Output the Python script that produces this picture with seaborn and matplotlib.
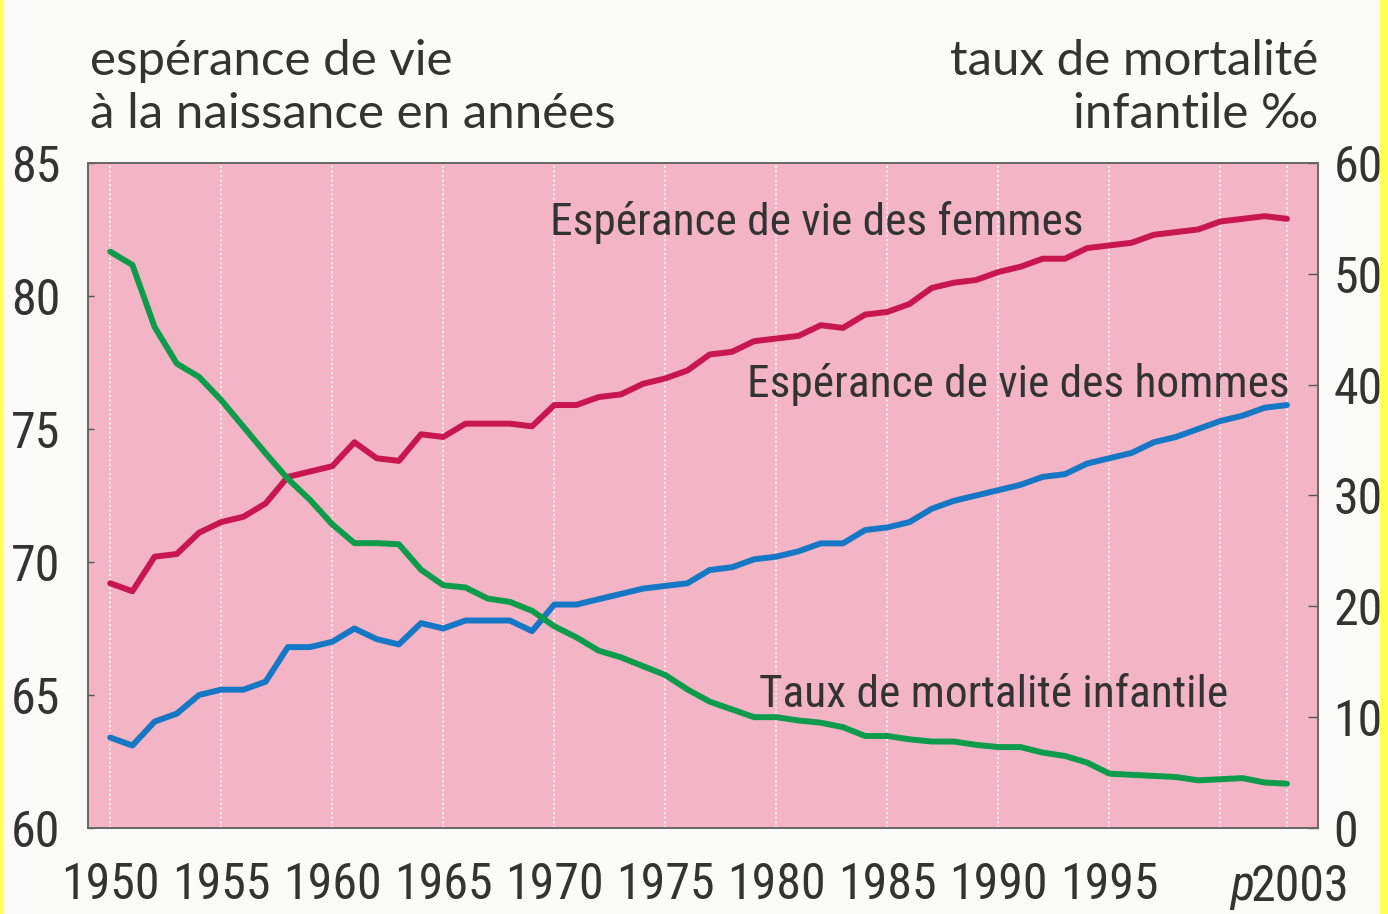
import numpy as np
import pandas as pd
import matplotlib
matplotlib.use("Agg")
import matplotlib.pyplot as plt
from matplotlib import font_manager as fm
import seaborn as sns

# annees 1950 -> 2003 (2003 provisoire)
annees = list(range(1950, 2004))

esperance_femmes = [69.2, 68.9, 70.2, 70.3, 71.1, 71.5, 71.7, 72.2, 73.2, 73.4,
                    73.6, 74.5, 73.9, 73.8, 74.8, 74.7, 75.2, 75.2, 75.2, 75.1,
                    75.9, 75.9, 76.2, 76.3, 76.7, 76.9, 77.2, 77.8, 77.9, 78.3,
                    78.4, 78.5, 78.9, 78.8, 79.3, 79.4, 79.7, 80.3, 80.5, 80.6,
                    80.9, 81.1, 81.4, 81.4, 81.8, 81.9, 82.0, 82.3, 82.4, 82.5,
                    82.8, 82.9, 83.0, 82.9]

esperance_hommes = [63.4, 63.1, 64.0, 64.3, 65.0, 65.2, 65.2, 65.5, 66.8, 66.8,
                    67.0, 67.5, 67.1, 66.9, 67.7, 67.5, 67.8, 67.8, 67.8, 67.4,
                    68.4, 68.4, 68.6, 68.8, 69.0, 69.1, 69.2, 69.7, 69.8, 70.1,
                    70.2, 70.4, 70.7, 70.7, 71.2, 71.3, 71.5, 72.0, 72.3, 72.5,
                    72.7, 72.9, 73.2, 73.3, 73.7, 73.9, 74.1, 74.5, 74.7, 75.0,
                    75.3, 75.5, 75.8, 75.9]

mortalite_infantile = [52.0, 50.8, 45.2, 41.9, 40.7, 38.6, 36.2, 33.8, 31.5, 29.6,
                       27.4, 25.7, 25.7, 25.6, 23.3, 21.9, 21.7, 20.7, 20.4, 19.6,
                       18.2, 17.2, 16.0, 15.4, 14.6, 13.8, 12.5, 11.4, 10.7, 10.0,
                       10.0, 9.7, 9.5, 9.1, 8.3, 8.3, 8.0, 7.8, 7.8, 7.5,
                       7.3, 7.3, 6.8, 6.5, 5.9, 4.9, 4.8, 4.7, 4.6, 4.3,
                       4.4, 4.5, 4.1, 4.0]

x_ticks = [1950, 1955, 1960, 1965, 1970, 1975, 1980, 1985, 1990, 1995, 2000, 2003]
x_labels = ["1950", "1955", "1960", "1965", "1970", "1975", "1980", "1985",
            "1990", "1995", "", ""]
y_left_ticks = [60, 65, 70, 75, 80, 85]
y_right_ticks = [0, 10, 20, 30, 40, 50, 60]

df = pd.DataFrame({"annee": annees, "femmes": esperance_femmes,
                   "hommes": esperance_hommes, "mortalite": mortalite_infantile})

sns.set_theme(style="white")
plt.rcParams["font.family"] = ["DejaVu Sans"]


# find the narrowest sans face that is installed
def pick_narrow(italic=False):
    style = "italic" if italic else "normal"
    wanted = ["Liberation Sans Narrow", "Roboto Condensed", "Open Sans Condensed",
              "Noto Sans", "DejaVu Sans"]
    narrow_stretch = ("condensed", "semi-condensed", "extra-condensed", "ultra-condensed")
    for name in wanted:
        for f in fm.fontManager.ttflist:
            if f.name != name or f.style != style:
                continue
            if f.weight not in (400, "normal", "regular", "book"):
                continue
            if "Narrow" in name or "Condensed" in name or f.stretch in narrow_stretch \
                    or (isinstance(f.stretch, int) and f.stretch < 500):
                return fm.FontProperties(fname=f.fname)
    return None


fp_reg = pick_narrow()
fp_it = pick_narrow(italic=True)
if fp_reg is None:
    fp_reg = fm.FontProperties(family="DejaVu Sans")
if fp_it is None:
    fp_it = fm.FontProperties(family="DejaVu Sans", style="italic")

pink = "#F3B5C5"
red = "#C8174F"
blue = "#1677C4"
green = "#0E9B4C"
ink = "#333333"
tick_size = 36
label_size = 32.7

fig = plt.figure(figsize=(13.88, 9.14), dpi=100, facecolor="#FAFBF8")
ax = fig.add_axes([0.0634, 0.0941, 0.8862, 0.7276])
ax.set_facecolor(pink)

sns.lineplot(data=df, x="annee", y="femmes", ax=ax, color=red, lw=4.3)
sns.lineplot(data=df, x="annee", y="hommes", ax=ax, color=blue, lw=4.3)

ax2 = ax.twinx()
sns.lineplot(data=df, x="annee", y="mortalite", ax=ax2, color=green, lw=4.3)

ax.set_xlim(1949.0, 2004.4)
ax.set_ylim(60, 85)
ax2.set_ylim(0, 60)

for a in (ax, ax2):
    a.set_xlabel("")
    a.set_ylabel("")
    for s in a.spines.values():
        s.set_color("#666666")
        s.set_linewidth(1.2)

ax.set_xticks(x_ticks)
ax.set_xticklabels(x_labels)
ax.set_yticks(y_left_ticks)
ax2.set_yticks(y_right_ticks)

ax.grid(axis="x", color="white", ls=(0, (1.5, 1.5)), lw=1.1, alpha=0.85)
ax.grid(axis="y", visible=False)
ax2.grid(False)

ax.tick_params(axis="x", direction="in", length=7, width=1, color="#555555",
               labelcolor=ink, pad=24)
ax.tick_params(axis="y", direction="in", length=4, width=1, color="#555555",
               labelcolor=ink, pad=20)
ax2.tick_params(axis="y", direction="in", length=7, width=1, color="#555555",
                labelcolor=ink, pad=11)

for lab in ax.get_xticklabels() + ax.get_yticklabels() + ax2.get_yticklabels():
    lab.set_fontproperties(fp_reg)
    lab.set_fontsize(tick_size)

# dernier repere : p2003 (provisoire), le p en italique
xb = ax.get_xaxis_transform()
ax.text(2003.6, -0.052, "2003", transform=xb, fontproperties=fp_reg,
        fontsize=tick_size, color=ink, ha="center", va="top")
ax.text(2001.5, -0.052, "p", transform=xb, fontproperties=fp_it,
        fontsize=tick_size, color=ink, ha="right", va="top")

# etiquettes des courbes
ax.text(1981.8, 82.3, "Espérance de vie des femmes", fontproperties=fp_reg,
        fontsize=label_size, color=ink, ha="center", va="baseline")
ax.text(1990.9, 76.2, "Espérance de vie des hommes", fontproperties=fp_reg,
        fontsize=label_size, color=ink, ha="center", va="baseline")
ax2.text(1989.8, 10.9, "Taux de mortalité infantile", fontproperties=fp_reg,
         fontsize=label_size, color=ink, ha="center", va="baseline")

# titres des axes
title_font = ["Lato", "DejaVu Sans"]
fig.text(0.065, 0.918, "espérance de vie", family=title_font, fontsize=35.5,
         color=ink, ha="left", va="baseline")
fig.text(0.065, 0.860, "à la naissance en années", family=title_font, fontsize=35.5,
         color=ink, ha="left", va="baseline")
fig.text(0.9496, 0.918, "taux de mortalité", family=title_font, fontsize=35.5,
         color=ink, ha="right", va="baseline")
fig.text(0.9496, 0.860, "infantile ‰", family=title_font, fontsize=35.5,
         color=ink, ha="right", va="baseline")

# bordure jaune (par-dessus, elle rogne les chiffres de droite)
fig.patches.append(plt.Rectangle((0.9942, 0), 0.0058, 1, transform=fig.transFigure,
                                 color="#FFFF55", zorder=10))
fig.patches.append(plt.Rectangle((0, 0), 0.0012, 1, transform=fig.transFigure,
                                 color="#FFFF55", zorder=10))

fig.savefig("out.png", dpi=100, facecolor=fig.get_facecolor())
